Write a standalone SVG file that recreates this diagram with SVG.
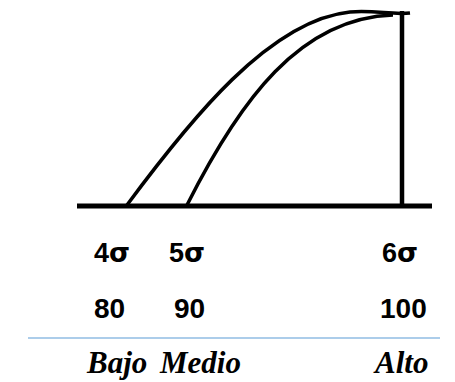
<svg xmlns="http://www.w3.org/2000/svg" width="455" height="382" viewBox="0 0 455 382">
<style>
.ln{fill:none;stroke:#000;stroke-linecap:butt}
.sg{font-family:"Liberation Sans",Arial,sans-serif;font-weight:bold;font-size:27px;fill:#000}
.sg tspan{font-family:"DejaVu Sans",sans-serif}
.nm{font-family:"Liberation Sans",Arial,sans-serif;font-weight:bold;font-size:28px;fill:#000}
.lb{font-family:"Liberation Serif","Times New Roman",serif;font-weight:bold;font-style:italic;font-size:31px;fill:#000}
</style>
<rect width="455" height="382" fill="#fff"/>
<g id="connectors">
<path class="ln" stroke-width="5" d="M77,206 H432"/>
<path class="ln" stroke-width="4.5" d="M402,11 V206"/>
<path class="ln" stroke-width="3.5" d="M127,205 C190,120 270,20 350,12 C375,10 392,15 410,13"/>
<path class="ln" stroke-width="3.5" d="M187,205 C240,100 300,18 393,15"/>
<path fill="none" stroke="#5B9BD5" stroke-width="1.2" d="M28,338 H440"/>
</g>
<g id="sigma">
<text class="sg" x="94" y="262">4<tspan>σ</tspan></text>
<text class="sg" x="169" y="262">5<tspan>σ</tspan></text>
<text class="sg" x="382" y="262">6<tspan>σ</tspan></text>
</g>
<g id="values">
<text class="nm" x="94" y="318">80</text>
<text class="nm" x="174" y="318">90</text>
<text class="nm" x="380" y="318">100</text>
</g>
<g id="levels">
<text class="lb" x="87" y="373">Bajo</text>
<text class="lb" x="160" y="373">Medio</text>
<text class="lb" x="375" y="373">Alto</text>
</g>
</svg>
